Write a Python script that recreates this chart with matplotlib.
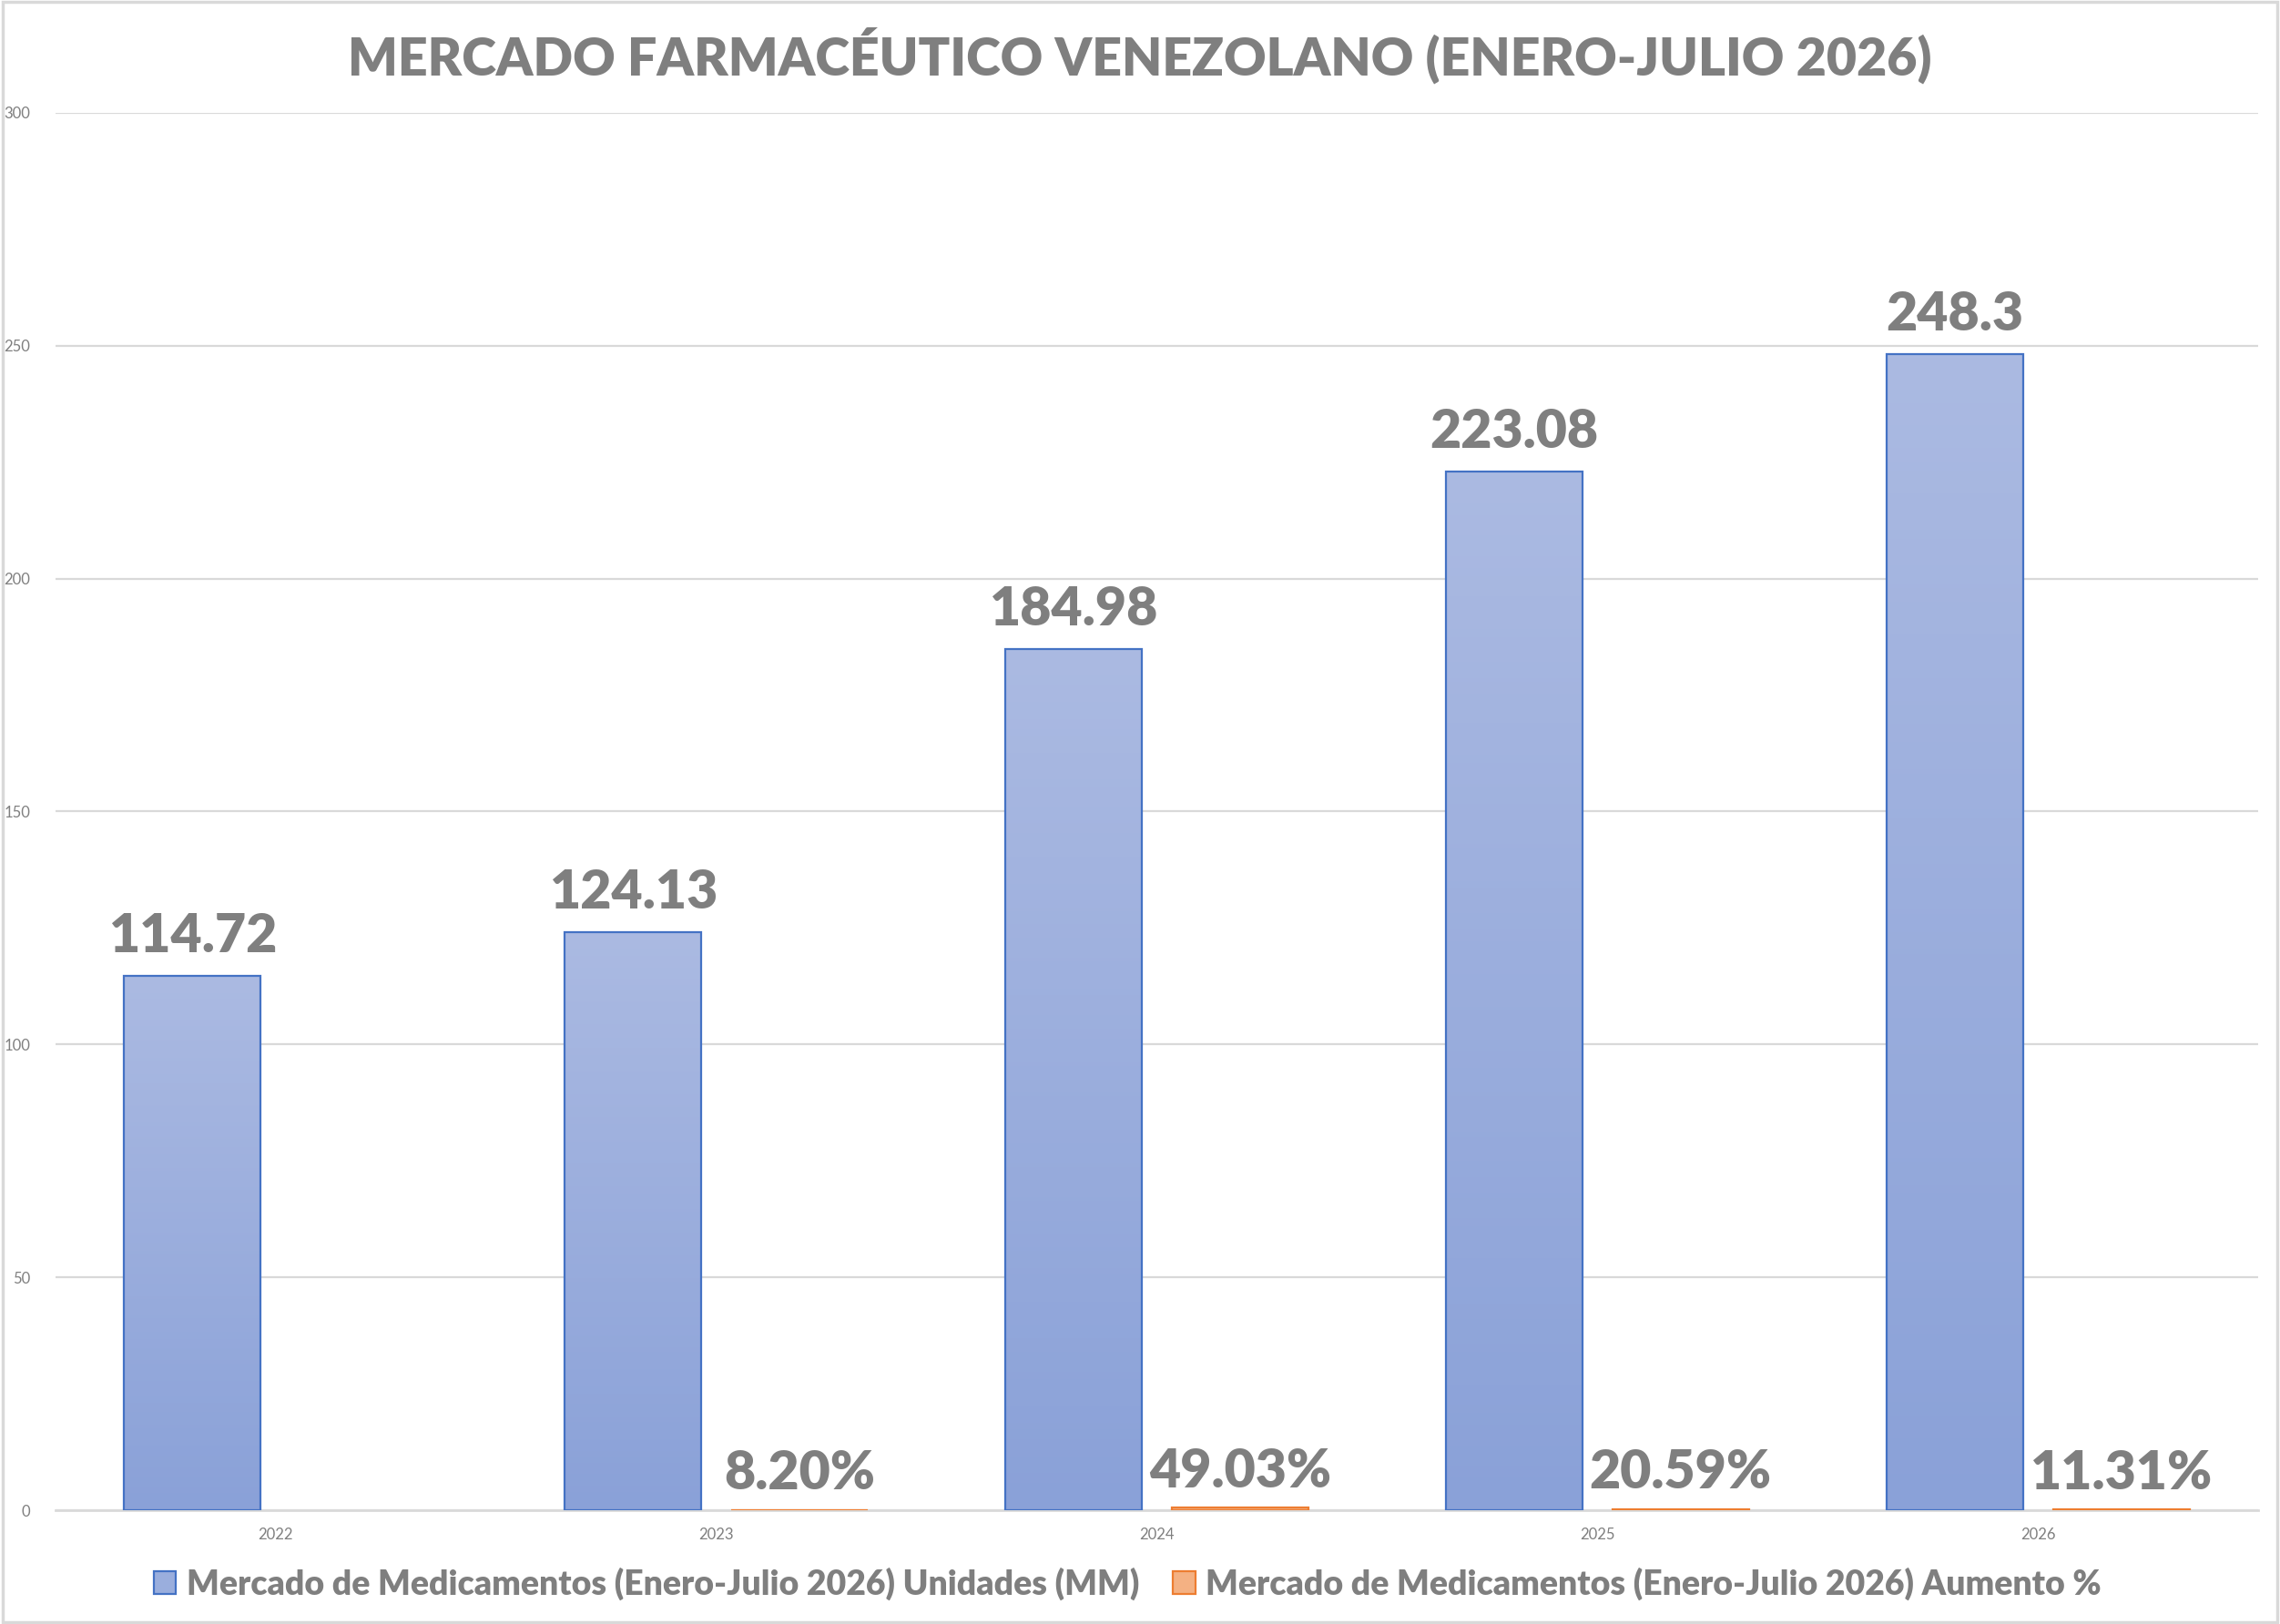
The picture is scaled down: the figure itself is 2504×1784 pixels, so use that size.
import numpy as np
import matplotlib.pyplot as plt
from matplotlib.patches import Patch, Rectangle
from matplotlib.colors import LinearSegmentedColormap

# datos
anios = ['2022', '2023', '2024', '2025', '2026']
unidades = [114.72, 124.13, 184.98, 223.08, 248.3]      # Unidades (MM)
aumento = [np.nan, 0.0820, 0.4903, 0.2059, 0.1131]    # Aumento % (fracción)
yticks = [0, 50, 100, 150, 200, 250, 300]

titulo = 'MERCADO FARMACÉUTICO VENEZOLANO (ENERO-JULIO 2026)'
serie1 = 'Mercado de Medicamentos (Enero-Julio 2026) Unidades (MM)'
serie2 = 'Mercado de Medicamentos (Enero-Julio 2026) Aumento %'

gris = '#7f7f7f'
azul_borde = '#4472c4'
naranja_borde = '#ed7d31'
naranja = '#f4b183'
grad = LinearSegmentedColormap.from_list('azul', ['#8aa1d8', '#abbae2'])

plt.rcParams['font.family'] = ['Lato', 'DejaVu Sans']

W, H = 2504, 1784
fig = plt.figure(figsize=(W / 100, H / 100), dpi=100)
ax = fig.add_axes([61 / W, 1 - 1659 / H, (2480 - 61) / W, (1659 - 124) / H])

x = np.arange(len(anios))
ancho = 0.31
sep = 0.068
off = (ancho + sep) / 2

barras = ax.bar(x - off, unidades, ancho, color='none', edgecolor=azul_borde,
                linewidth=1.6, zorder=3)
# degradado vertical en cada barra
g = np.linspace(0, 1, 256).reshape(-1, 1)
for b in barras:
    x0, w, h = b.get_x(), b.get_width(), b.get_height()
    im = ax.imshow(g, extent=[x0, x0 + w, 0, h], origin='lower', aspect='auto',
                   cmap=grad, zorder=2)
    im.set_clip_path(b)

ax.bar(x + off, aumento, ancho, color=naranja, edgecolor=naranja_borde,
       linewidth=1.6, zorder=3)

for xi, v in zip(x, unidades):
    ax.annotate(f'{v:g}', (xi - off, v), xytext=(0, 12), textcoords='offset points',
                ha='center', va='bottom', fontsize=42.5, fontweight='heavy', color=gris)
for xi, v in zip(x, aumento):
    if np.isnan(v):
        continue
    ax.annotate(f'{v * 100:.2f}%', (xi + off, v), xytext=(0, 10), textcoords='offset points',
                ha='center', va='bottom', fontsize=42.5, fontweight='heavy', color=gris)

ax.set_xlim(-0.5, len(anios) - 0.5)
ax.set_ylim(0, 300)
ax.set_yticks(yticks)
ax.set_xticks(x)
ax.set_xticklabels(anios)
ax.tick_params(axis='both', length=0, labelsize=12, colors=gris)
ax.tick_params(axis='x', pad=14)
ax.tick_params(axis='y', pad=20)
ax.grid(axis='y', color='#d9d9d9', linewidth=1.6, zorder=0)
ax.set_axisbelow(True)
for s in ['top', 'right', 'left']:
    ax.spines[s].set_visible(False)
ax.spines['bottom'].set_color('#d9d9d9')
ax.spines['bottom'].set_linewidth(2)

fig.suptitle(titulo, x=0.5, y=1 - 61 / H, va='center', fontsize=41.2,
             fontweight='heavy', color=gris)

handles = [Patch(facecolor='#9aaedd', edgecolor=azul_borde, linewidth=1.6, label=serie1),
           Patch(facecolor=naranja, edgecolor=naranja_borde, linewidth=1.6, label=serie2)]
fig.legend(handles=handles, loc='center', bbox_to_anchor=(0.4945, 1 - 1740 / H), ncol=2,
           frameon=False, handlelength=0.65, handleheight=0.65, handletextpad=0.3,
           columnspacing=1.0, prop={'size': 26.9, 'weight': 'heavy'}, labelcolor=gris)

fig.add_artist(Rectangle((0.001, 0.001), 0.998, 0.998, transform=fig.transFigure,
                         fill=False, edgecolor='#d9d9d9', linewidth=2.5))

fig.savefig('out.png', dpi=100, facecolor='white')
